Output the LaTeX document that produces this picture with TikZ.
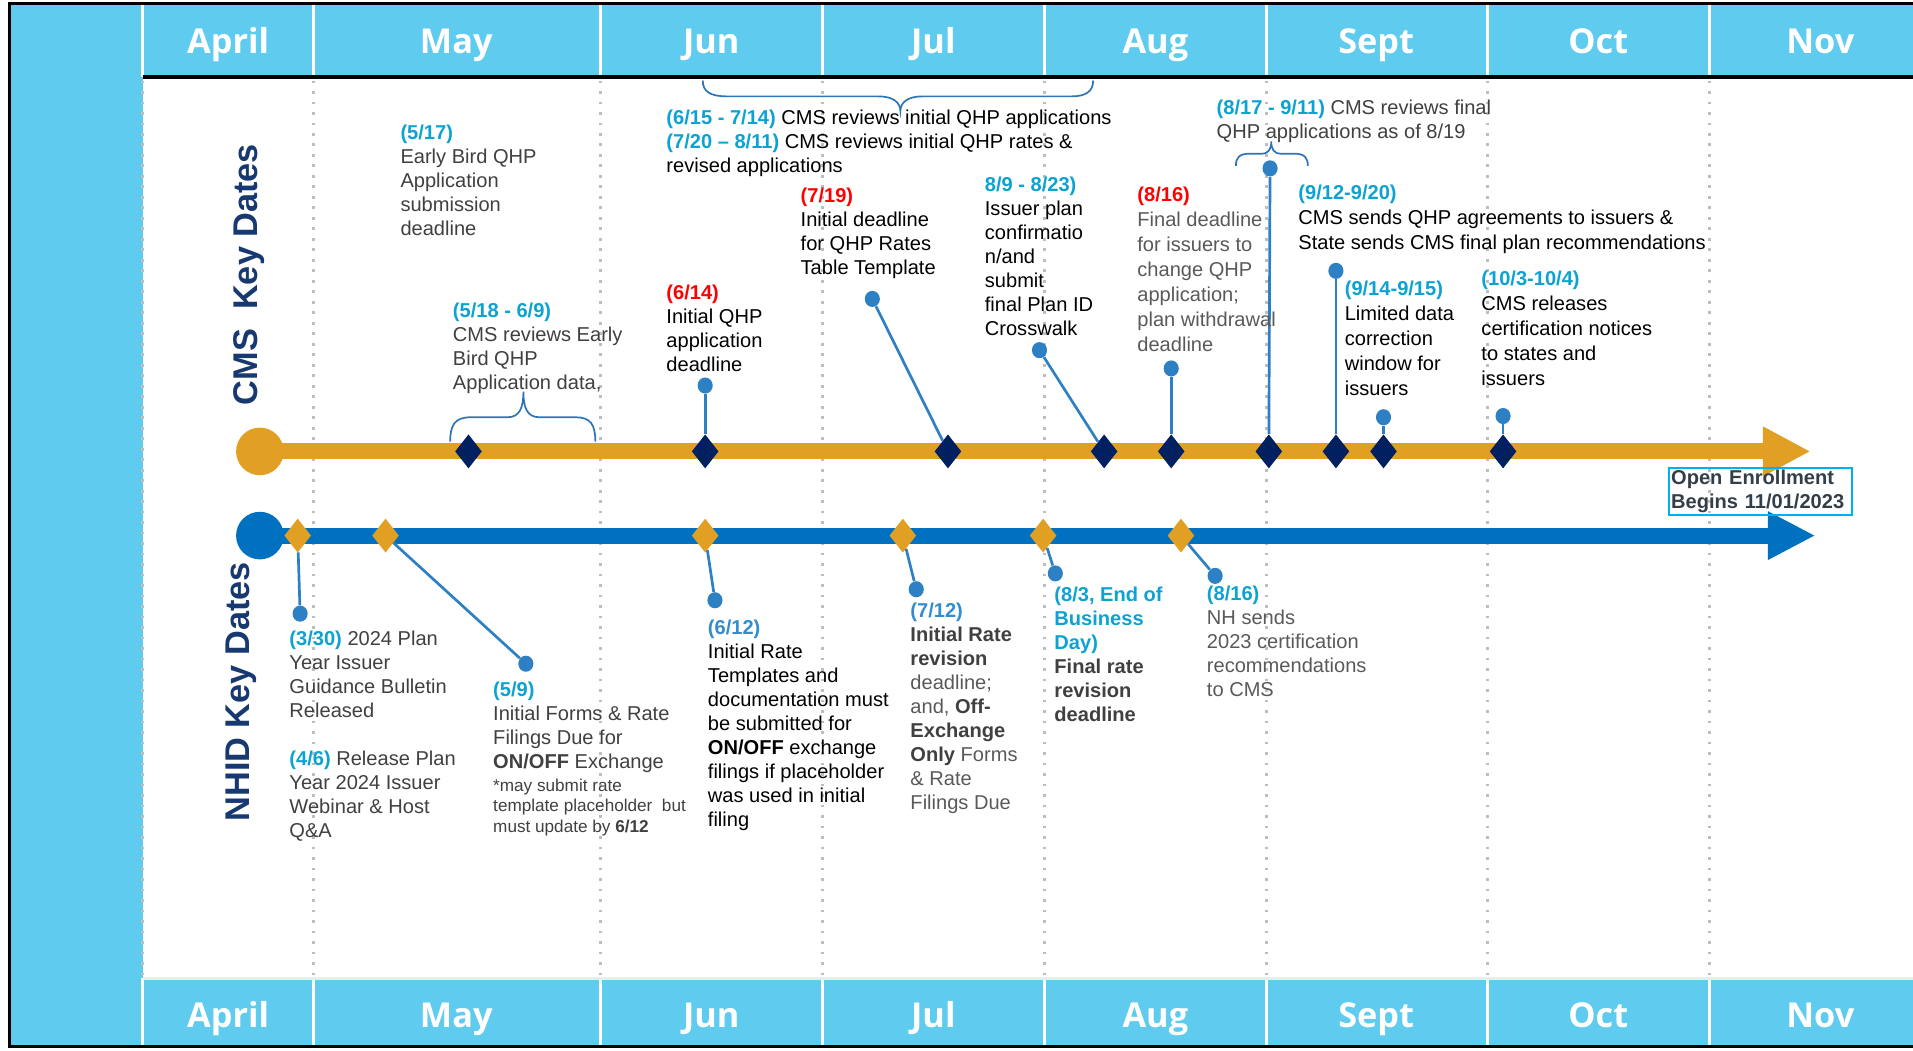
\documentclass[tikz,border=0pt]{standalone}
\usepackage{fontspec}
\setmainfont{Liberation Sans}
\newfontfamily\monthfont{Open Sans}
\usetikzlibrary{shapes.geometric,arrows.meta}

\definecolor{skyhead}{RGB}{95,203,239}
\definecolor{cmsorange}{RGB}{225,160,36}
\definecolor{nhblue}{RGB}{0,112,192}
\definecolor{navy}{RGB}{0,32,96}
\definecolor{pinblue}{RGB}{46,128,196}
\definecolor{bracecol}{RGB}{46,117,182}
\definecolor{datecyan}{RGB}{12,162,210}
\definecolor{dateblue}{RGB}{50,140,205}
\definecolor{titlenavy}{RGB}{24,56,112}
\definecolor{textgrey}{RGB}{64,64,64}
\definecolor{softgrey}{RGB}{89,89,89}
\definecolor{dotgrey}{RGB}{190,190,190}
\definecolor{oebox}{RGB}{0,176,240}
\definecolor{oetext}{RGB}{50,62,72}

\newcommand{\dcy}[1]{\textcolor{datecyan}{\bfseries #1}}
\newcommand{\dred}[1]{\textcolor{red}{\bfseries #1}}
\newcommand{\dblu}[1]{\textcolor{dateblue}{\bfseries #1}}

\begin{document}
\begin{tikzpicture}[x=0.025cm, y=-0.025cm,
    month node/.style={anchor=base, font=\monthfont\bfseries\fontsize{20}{24}\selectfont, text=white},
    month rule/.style={draw=white, line width=0.06cm},
    grid line/.style={draw=dotgrey, line width=0.055cm, dash pattern=on 0.055cm off 0.16cm},
    title node/.style={rotate=90, font=\bfseries\fontsize{20}{24}\selectfont, text=titlenavy},
    cms start/.style={circle, fill=cmsorange, minimum size=0.975cm, inner sep=0pt},
    nh start/.style={circle, fill=nhblue, minimum size=0.975cm, inner sep=0pt},
    cms bar/.style={draw=cmsorange, line width=0.325cm, -{Triangle[length=0.975cm, width=0.95cm]}},
    nh bar/.style={draw=nhblue, line width=0.325cm, -{Triangle[length=0.975cm, width=0.925cm]}},
    cms diamond/.style={diamond, fill=navy, minimum width=0.55cm, minimum height=0.7cm, inner sep=0pt},
    nh diamond/.style={diamond, fill=cmsorange, minimum width=0.55cm, minimum height=0.7cm, inner sep=0pt},
    pin node/.style={ellipse, fill=pinblue, minimum width=0.31cm, minimum height=0.33cm, inner sep=0pt},
    pin line/.style={draw=pinblue, line width=0.055cm},
    brace line/.style={draw=bracecol, line width=0.035cm},
    txt node/.style={anchor=north west, align=left, inner sep=0pt, font=\fontsize{11.7}{14}\selectfont, text=black},
    loose/.style={font=\fontsize{11.7}{14.6}\selectfont},
    oe node/.style={anchor=north west, draw=oebox, line width=0.04cm, align=left, text width=3.65cm,
      inner xsep=0.05cm, inner ysep=0.04cm, font=\bfseries\fontsize{11.7}{14}\selectfont, text=oetext}]
\useasboundingbox (0,0) rectangle (1568,861);

% panels and month bands
\fill[skyhead] (8,3) rectangle (117,858);
\fill[skyhead] (117,3) rectangle (1568,63);
\fill[skyhead] (117,802) rectangle (1568,858);
\foreach \x in {117,257,492,674,856,1038,1219,1401}{
  \draw[month rule] (\x,3) -- (\x,63);
  \draw[month rule] (\x,802) -- (\x,858);
  \draw[grid line] (\x,66) -- (\x,800);
}
\draw[line width=0.07cm] (117,63) -- (1568,63);
\draw[white!85!gray, line width=0.05cm] (117,802) -- (1568,802);
\draw[line width=0.06cm] (1568,3) -- (8,3) -- (8,858) -- (1568,858);
\foreach \m/\x in {April/187,May/374,Jun/583,Jul/765,Aug/947,Sept/1128,Oct/1310,Nov/1492}{
  \node[month node] (top\m) at (\x,44) {\m};
  \node[month node] (bot\m) at (\x,842) {\m};
}

\node[title node] (cmstitle) at (204,225) {CMS\ \ Key Dates};
\node[title node] (nhtitle) at (198,567) {NHID Key Dates};

% the two time lines
\node[cms start] (cmsstart) at (213,370) {};
\node[nh start] (nhstart) at (213,439) {};
\coordinate (cmsend) at (1484,370);
\coordinate (nhend) at (1488,439);
\draw[cms bar] (cmsstart.center) -- (cmsend);
\draw[nh bar] (nhstart.center) -- (nhend);

\foreach \n/\x in {1/384,2/578,3/777,4/905,5/960,6/1040,7/1095,8/1134,9/1232}
  \node[cms diamond] (c\n) at (\x,370) {};
\foreach \n/\x in {1/244,2/316,3/578,4/740,5/855,6/968}
  \node[nh diamond] (n\n) at (\x,439) {};

% pins
\foreach \n/\x/\y/\d in {614/578/316/c2,719/715/245/c3,809/852/287/c4,816/960/302/c5,
    817/1041/138/c6,912/1095/222/c7,914/1134/342/c8,103/1232/341/c9,
    330/246/503/n1,509/431/544/n2,612/586/492/n3,712/751/483/n4,803/865/470/n5,816b/996/472/n6}{
  \node[pin node] (p\n) at (\x,\y) {};
  \draw[pin line] (p\n) -- (\d);
}

% braces
\draw[brace line] (369,362) .. controls (369,348) and (373,342) .. (386,342) -- (416,342)
  .. controls (426,342) and (429,334) .. (429,321) .. controls (429,334) and (432,342) .. (442,342)
  -- (472,342) .. controls (484,342) and (488,348) .. (488,362);
\draw[brace line] (576,66) .. controls (576,75) and (582,79) .. (596,79) -- (720,79)
  .. controls (732,79) and (738,84) .. (738,91) .. controls (738,84) and (744,79) .. (756,79)
  -- (878,79) .. controls (890,79) and (896,75) .. (896,66);
\draw[brace line] (1013,136) .. controls (1013,129) and (1016,126) .. (1024,126) -- (1034,126)
  .. controls (1040,126) and (1042,122) .. (1042,116) .. controls (1042,122) and (1044,126) .. (1050,126)
  -- (1061,126) .. controls (1069,126) and (1072,129) .. (1072,136);

% CMS texts
\node[txt node, text=textgrey] (t517) at (328,102) {\dcy{(5/17)}\\Early Bird QHP\\Application\\submission\\deadline};
\node[txt node, text=textgrey] (t518) at (371,248) {\dcy{(5/18 - 6/9)}\\CMS reviews Early\\Bird QHP\\Application data,};
\node[txt node] (t615) at (546,90) {\dcy{(6/15 - 7/14)} CMS reviews initial QHP applications\\\dcy{(7/20 – 8/11)} CMS reviews initial QHP rates \&\\revised applications};
\node[txt node] (t614) at (546,233) {\dred{(6/14)}\\Initial QHP\\application\\deadline};
\node[txt node] (t719) at (656,154) {\dred{(7/19)}\\Initial deadline\\for QHP Rates\\Table Template};
\node[txt node] (t809) at (807,145) {\dcy{8/9 - 8/23)}\\Issuer plan\\confirmatio\\n/and\\submit\\final Plan ID\\Crosswalk};
\node[txt node, loose, text=softgrey] (t816) at (932,153) {\dred{(8/16)}\\Final deadline\\for issuers to\\change QHP\\application;\\plan withdrawal\\deadline};
\node[txt node, text=textgrey] (t817) at (997,82) {\dcy{(8/17 - 9/11)} CMS reviews final\\QHP applications as of 8/19};
\node[txt node, loose] (t912) at (1064,151) {\dcy{(9/12-9/20)}\\CMS sends QHP agreements to issuers \&\\State sends CMS final plan recommendations};
\node[txt node, loose] (t914) at (1102,230) {\dcy{(9/14-9/15)}\\Limited data\\correction\\window for\\issuers};
\node[txt node, loose] (t103) at (1214,222) {\dcy{(10/3-10/4)}\\CMS releases\\certification notices\\to states and\\issuers};
\node[oe node] (oe) at (1367,383) {Open Enrollment\\Begins 11/01/2023};

% NHID texts
\node[txt node, text=textgrey] (t330) at (237,517) {\dcy{(3/30)} 2024 Plan\\Year Issuer\\Guidance Bulletin\\Released};
\node[txt node, text=textgrey] (t406) at (237,615) {\dcy{(4/6)} Release Plan\\Year 2024 Issuer\\Webinar \& Host\\Q\&A};
\node[txt node, text=textgrey] (t509) at (404,559) {\dcy{(5/9)}\\Initial Forms \& Rate\\Filings Due for\\\textbf{ON/OFF} Exchange};
\node[txt node, text=textgrey, font=\fontsize{10}{12}\selectfont] (t509n) at (404,638) {*may submit rate\\template placeholder\ \ but\\must update by \textbf{6/12}};
\node[txt node] (t612) at (580,508) {\dblu{(6/12)}\\Initial Rate\\Templates and\\documentation must\\be submitted for\\\textbf{ON/OFF} exchange\\filings if placeholder\\was used in initial\\filing};
\node[txt node, text=softgrey] (t712) at (746,494) {\dblu{(7/12)}\\\textcolor{textgrey}{\bfseries Initial Rate}\\\textcolor{textgrey}{\bfseries revision}\\deadline;\\and, \textcolor{textgrey}{\bfseries Off-}\\\textcolor{textgrey}{\bfseries Exchange}\\\textcolor{textgrey}{\bfseries Only} Forms\\\& Rate\\Filings Due};
\node[txt node, text=textgrey] (t803) at (864,481) {\dcy{(8/3, End of}\\\dcy{Business}\\\dcy{Day)}\\\textbf{Final rate}\\\textbf{revision}\\\textbf{deadline}};
\node[txt node, text=softgrey] (t816b) at (989,480) {\dcy{(8/16)}\\NH sends\\2023 certification\\recommendations\\to CMS};
\end{tikzpicture}
\end{document}
